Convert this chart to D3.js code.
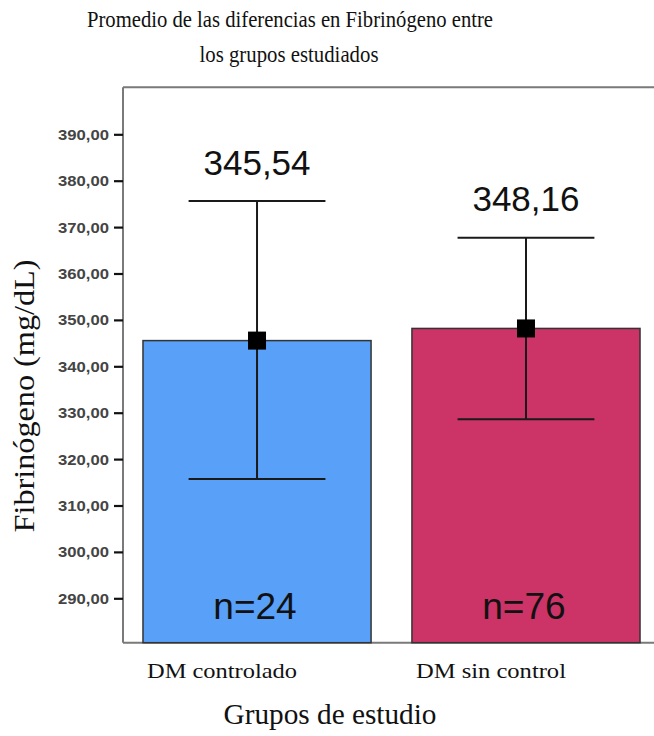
<!DOCTYPE html>
<html>
<head>
<meta charset="utf-8">
<script src="https://cdn.jsdelivr.net/npm/d3@7"></script>
<style>
  body { margin: 0; background: #fff; }
  svg { display: block; }
</style>
</head>
<body>
<svg id="chart" width="654" height="736"></svg>
<script>
// values
var categories = ["DM controlado", "DM sin control"];
var means      = [345.54, 348.16];
var upper      = [375.6, 367.7];
var lower      = [315.7, 328.6];
var counts     = [24, 76];
var meanLabels = ["345,54", "348,16"];
var yTicks     = [290, 300, 310, 320, 330, 340, 350, 360, 370, 380, 390];
var barColors  = ["#58a0f8", "#cc3366"];

var svg = d3.select("#chart");

var plotTop = 87.3, plotBottom = 642.7, plotLeft = 123, plotRight = 660;

var y = d3.scaleLinear().domain([280.43, 400.13]).range([plotBottom, plotTop]);
var x = d3.scaleBand().domain(categories).range([plotLeft, plotRight])
    .paddingInner(0.152).paddingOuter(0.0743);

var fmt = function(v) { return d3.format(".2f")(v).replace(".", ","); };

var rows = categories.map(function(c, i) {
    return {cat: c, mean: means[i], hi: upper[i], lo: lower[i], n: counts[i],
            label: meanLabels[i], color: barColors[i]};
});

/********************************/
// title
var title = svg.append("g").attr("font-family", "'Liberation Serif', serif")
    .attr("font-size", 23).attr("fill", "#111").attr("text-anchor", "middle");
title.append("text").attr("x", 290).attr("y", 27).attr("textLength", 406)
    .attr("lengthAdjust", "spacingAndGlyphs")
    .text("Promedio de las diferencias en Fibrinógeno entre");
title.append("text").attr("x", 289).attr("y", 62).attr("textLength", 179)
    .attr("lengthAdjust", "spacingAndGlyphs")
    .text("los grupos estudiados");

// frame (top, bottom)
svg.append("path")
    .attr("d", "M" + plotLeft + "," + plotTop + "H" + (plotRight + 5) +
               "M" + plotLeft + "," + plotBottom + "H" + (plotRight + 5))
    .attr("stroke", "#7a7a7a").attr("stroke-width", 2).attr("fill", "none");

// bars
svg.selectAll("rect.bar").data(rows).enter().append("rect")
    .attr("class", "bar")
    .attr("x", function(d) { return x(d.cat); })
    .attr("y", function(d) { return y(d.mean); })
    .attr("width", x.bandwidth())
    .attr("height", function(d) { return plotBottom - y(d.mean); })
    .attr("fill", function(d) { return d.color; })
    .attr("stroke", "#333").attr("stroke-width", 1.5);

// error bars
var capW = x.bandwidth() * 0.6;
var eb = svg.selectAll("g.eb").data(rows).enter().append("g").attr("class", "eb")
    .attr("stroke", "#1a1a1a").attr("stroke-width", 2);
eb.append("line")
    .attr("x1", function(d) { return x(d.cat) + x.bandwidth() / 2; })
    .attr("x2", function(d) { return x(d.cat) + x.bandwidth() / 2; })
    .attr("y1", function(d) { return y(d.hi); })
    .attr("y2", function(d) { return y(d.lo); });
eb.append("line")
    .attr("x1", function(d) { return x(d.cat) + x.bandwidth() / 2 - capW / 2; })
    .attr("x2", function(d) { return x(d.cat) + x.bandwidth() / 2 + capW / 2; })
    .attr("y1", function(d) { return y(d.hi); })
    .attr("y2", function(d) { return y(d.hi); });
eb.append("line")
    .attr("x1", function(d) { return x(d.cat) + x.bandwidth() / 2 - capW / 2; })
    .attr("x2", function(d) { return x(d.cat) + x.bandwidth() / 2 + capW / 2; })
    .attr("y1", function(d) { return y(d.lo); })
    .attr("y2", function(d) { return y(d.lo); });

// mean markers
svg.selectAll("rect.mk").data(rows).enter().append("rect")
    .attr("class", "mk")
    .attr("x", function(d) { return x(d.cat) + x.bandwidth() / 2 - 9; })
    .attr("y", function(d) { return y(d.mean) - 9; })
    .attr("width", 18).attr("height", 18).attr("fill", "#000");

// value labels above the caps
svg.selectAll("text.val").data(rows).enter().append("text")
    .attr("class", "val")
    .attr("x", function(d) { return x(d.cat) + x.bandwidth() / 2; })
    .attr("y", function(d) { return y(d.hi) - 26.5; })
    .attr("text-anchor", "middle")
    .attr("font-family", "'Liberation Sans', Arial, sans-serif")
    .attr("font-size", 35).attr("fill", "#111")
    .text(function(d) { return d.label; });

// n= labels
svg.selectAll("text.n").data(rows).enter().append("text")
    .attr("class", "n")
    .attr("x", function(d) { return x(d.cat) + x.bandwidth() / 2 - 2; })
    .attr("y", 619)
    .attr("text-anchor", "middle")
    .attr("font-family", "'Liberation Sans', Arial, sans-serif")
    .attr("font-size", 37).attr("fill", "#111")
    .text(function(d) { return "n=" + d.n; });

// y axis
var yAxis = svg.append("g")
    .attr("transform", "translate(" + plotLeft + ",0)")
    .call(d3.axisLeft(y).tickValues(yTicks).tickSize(9).tickPadding(5).tickFormat(fmt));
yAxis.select(".domain").attr("stroke", "#7a7a7a").attr("stroke-width", 2)
    .attr("d", "M0," + plotTop + "V" + plotBottom);
yAxis.selectAll(".tick line").attr("stroke", "#111").attr("stroke-width", 2.2);
yAxis.selectAll(".tick text")
    .attr("font-family", "'Liberation Sans', Arial, sans-serif")
    .attr("font-size", 15.5).attr("font-weight", "bold").attr("fill", "#444")
    .attr("textLength", 51).attr("lengthAdjust", "spacingAndGlyphs");

// category labels
svg.selectAll("text.cat").data(rows).enter().append("text")
    .attr("class", "cat")
    .attr("x", function(d) { return x(d.cat) + x.bandwidth() / 2 - 35; })
    .attr("y", 678)
    .attr("text-anchor", "middle")
    .attr("font-family", "'Liberation Serif', serif")
    .attr("font-size", 21).attr("fill", "#111")
    .attr("textLength", 150).attr("lengthAdjust", "spacingAndGlyphs")
    .text(function(d) { return d.cat; });

// axis titles
svg.append("text")
    .attr("x", 330).attr("y", 724)
    .attr("text-anchor", "middle")
    .attr("font-family", "'Liberation Serif', serif")
    .attr("font-size", 29).attr("fill", "#111")
    .attr("textLength", 213).attr("lengthAdjust", "spacingAndGlyphs")
    .text("Grupos de estudio");

svg.append("text")
    .attr("transform", "translate(34,396) rotate(-90)")
    .attr("text-anchor", "middle")
    .attr("font-family", "'Liberation Serif', serif")
    .attr("font-size", 30).attr("fill", "#111")
    .attr("textLength", 273).attr("lengthAdjust", "spacingAndGlyphs")
    .text("Fibrinógeno (mg/dL)");
</script>
</body>
</html>
